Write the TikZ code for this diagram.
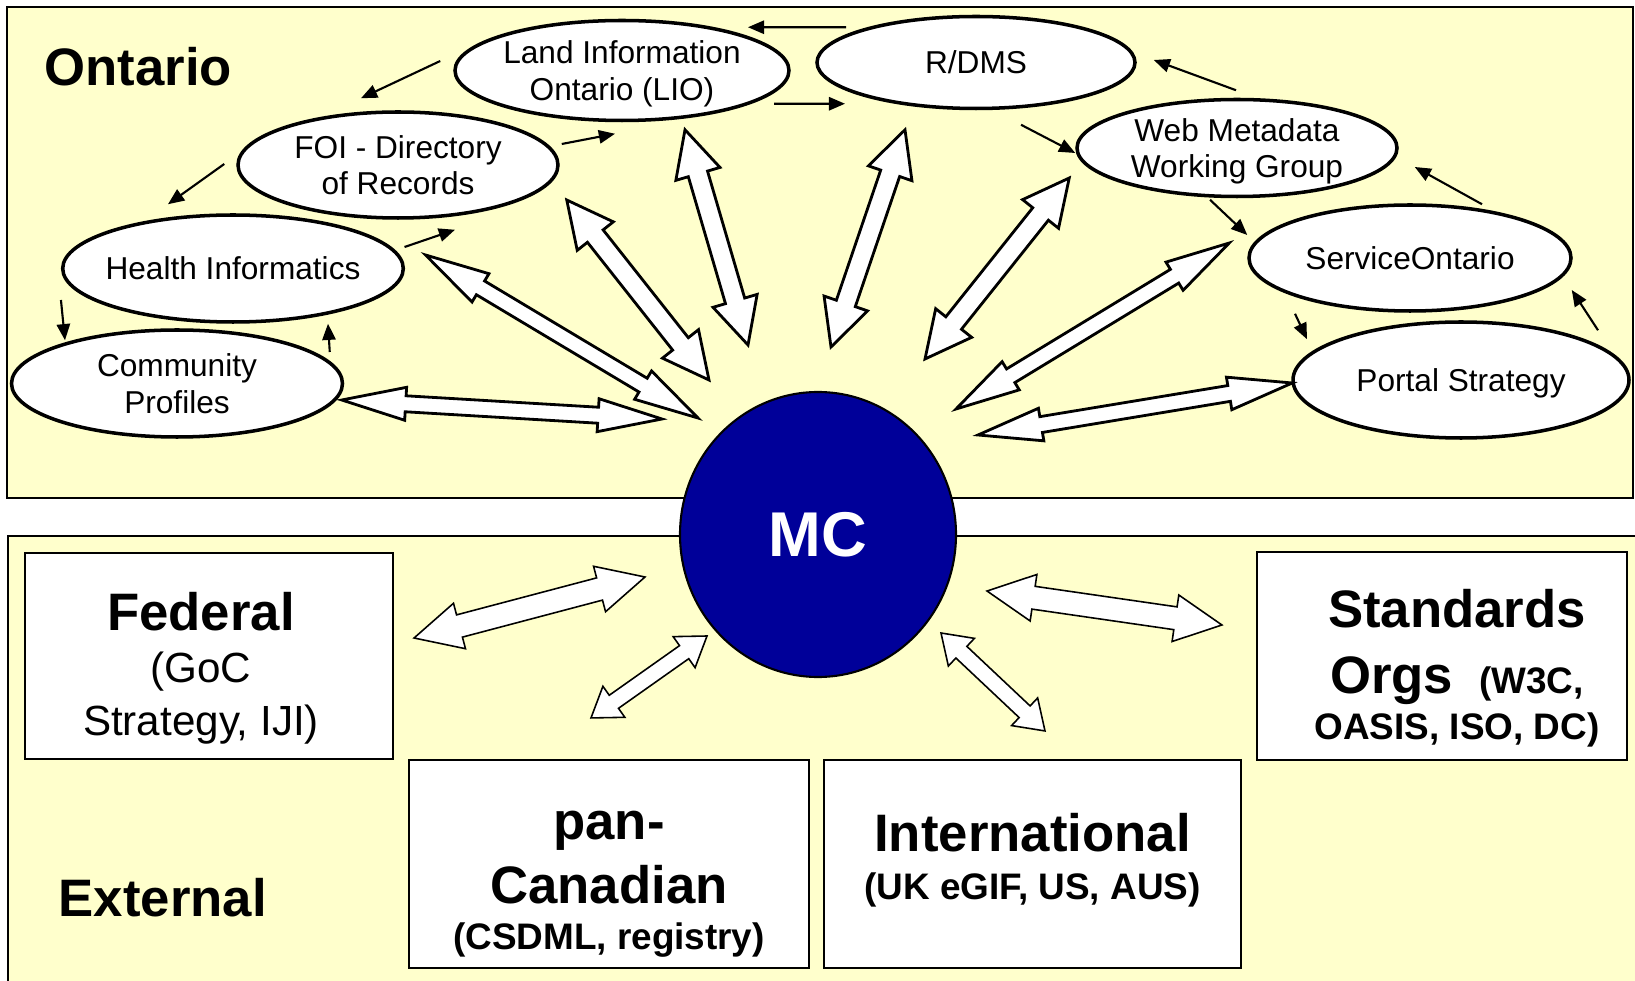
\documentclass[tikz,border=0pt]{standalone}
\usepackage{fontspec}
\setmainfont{Liberation Sans}
\usetikzlibrary{shapes.geometric,arrows.meta,calc}

\definecolor{paleyellow}{HTML}{FFFFCC}
\definecolor{mcblue}{HTML}{000099}

\newcommand{\headfont}{\fontsize{15}{15}\selectfont\bfseries}
\newcommand{\notefont}{\fontsize{10.5}{12}\selectfont\bfseries}

% hollow two-headed arrow between two named points
\newcommand{\dblarrow}[3][]{%
  \draw[bigarrow,#1] (#2)
    -- ($(#2)!\hlen!(#3)!\hwid!90:(#3)$)
    -- ($(#2)!\hlen!(#3)!\swid!90:(#3)$)
    -- ($(#3)!\hlen!(#2)!\swid!-90:(#2)$)
    -- ($(#3)!\hlen!(#2)!\hwid!-90:(#2)$)
    -- (#3)
    -- ($(#3)!\hlen!(#2)!\hwid!90:(#2)$)
    -- ($(#3)!\hlen!(#2)!\swid!90:(#2)$)
    -- ($(#2)!\hlen!(#3)!\swid!-90:(#3)$)
    -- ($(#2)!\hlen!(#3)!\hwid!-90:(#3)$)
    -- cycle;}

\tikzset{
  panel/.style={draw=black, line width=0.6pt, fill=paleyellow},
  region/.style={font=\fontsize{15}{18}\selectfont\bfseries, inner sep=0pt},
  unit/.style={ellipse, draw, line width=1pt, fill=white, inner sep=-2pt,
    align=center, text depth=0pt, font=\fontsize{9}{10.5}\selectfont},
  party/.style={rectangle, draw, line width=0.6pt, fill=white, inner sep=0pt},
  partytext/.style={align=center, inner sep=0pt},
  hub/.style={ellipse, draw, line width=0.6pt, fill=mcblue, text=white,
    font=\fontsize{18}{20}\selectfont\bfseries},
  link/.style={-{Triangle[length=4.6pt,width=3.8pt]}, line width=0.6pt},
  bigarrow/.style={draw=black, fill=white, line width=0.8pt, line join=miter},
  longhead/.code={\def\hlen{6.4mm}\def\hwid{1.65mm}\def\swid{0.8mm}},
  shorthead/.code={\def\hlen{4.6mm}\def\hwid{2.3mm}\def\swid{1mm}},
  widehead/.code={\def\hlen{4.7mm}\def\hwid{2.35mm}\def\swid{1.15mm}},
  smallhead/.code={\def\hlen{2.8mm}\def\hwid{1.9mm}\def\swid{0.8mm}}
}

\begin{document}
\begin{tikzpicture}[x=0.1mm, y=-0.1mm]
  \useasboundingbox (0,0) rectangle (1635,981);

  % the two areas
  \draw[panel] (7,7) rectangle (1633,498);
  \draw[panel] (8,536) rectangle (1660,1000);
  \node[region, anchor=west] (ontario) at (44,67) {Ontario};
  \node[region, anchor=west] (external) at (58,898) {External};

  % Ontario partners
  \node[unit, minimum width=33.4mm, minimum height=10mm] (lio) at (622,70.5) {Land Information\\Ontario (LIO)};
  \node[unit, minimum width=31.8mm, minimum height=9.2mm] (rdms) at (976,62.5) {R/DMS};
  \node[unit, minimum width=32mm, minimum height=10.6mm] (foi) at (398,165) {FOI - Directory\\of Records};
  \node[unit, minimum width=33.5mm, minimum height=10.7mm] (health) at (233,268.5) {Health Informatics};
  \node[unit, minimum width=33.1mm, minimum height=10.7mm] (cp) at (177,383.5) {Community\\Profiles};
  \node[unit, minimum width=32mm, minimum height=9.7mm] (web) at (1237,148) {Web Metadata\\Working Group};
  \node[unit, minimum width=32.2mm, minimum height=10.6mm] (so) at (1410,258) {ServiceOntario};
  \node[unit, minimum width=33.6mm, minimum height=11.6mm] (portal) at (1461,380) {Portal Strategy};

  % external partners
  \node[party, minimum width=36.8mm, minimum height=20.6mm] (fed) at (209,656) {};
  \node[party, minimum width=40mm, minimum height=20.8mm] (pan) at (609,864) {};
  \node[party, minimum width=41.7mm, minimum height=20.8mm] (intl) at (1032.5,864) {};
  \node[party, minimum width=37mm, minimum height=20.8mm] (std) at (1442,656) {};
  \node[partytext, font=\fontsize{12}{15}\selectfont] (fedtext) at ($(fed.center)+(-8,12)$)
    {{\headfont Federal}\\ (GoC\\ Strategy, IJI)};
  \node[partytext, font=\headfont] (pantext) at ($(pan.center)+(0,20)$)
    {pan-\\[3.2pt] Canadian\\[-1.9pt] {\notefont (CSDML, registry)}};
  \node[partytext, font=\headfont] (intltext) at ($(intl.center)+(0,-4)$)
    {International\\[-1.2pt] {\notefont (UK eGIF, US, AUS)}};
  \node[partytext, font=\headfont] (stdtext) at ($(std.center)+(15,12)$)
    {Standards\\[3.9pt] Orgs\hspace{2.6mm}{\notefont (W3C,}\\[-1.9pt] {\notefont OASIS, ISO, DC)}};

  \node[hub, minimum width=27.6mm, minimum height=28.5mm] (mc) at (818,534.5) {MC};

  % small arrows round the ring
  \draw[link] ($(lio.west)+(-13,-9.5)$) -- ($(foi.north)+(-37,-12)$);
  \draw[link] ($(foi.east)+(2,-21)$) -- ($(lio.south)+(-7,11.5)$);
  \draw[link] ($(foi.west)+(-12,-1)$) -- ($(health.north)+(-65,-9)$);
  \draw[link] ($(health.east)+(-0.5,-21.5)$) -- ($(foi.south)+(57,10)$);
  \draw[link] ($(health.west)+(0,31.5)$) -- ($(cp.north)+(-112,12)$);
  \draw[link] ($(cp.east)+(-14.5,-31.5)$) -- ($(health.south)+(95,0)$);
  \draw[link] ($(rdms.north)+(-130,12.5)$) -- ($(lio.north)+(126,8.5)$);
  \draw[link] ($(lio.south)+(152,-18.5)$) -- ($(rdms.south)+(-131,-6.5)$);
  \draw[link] ($(web.north)+(-1,-7.5)$) -- ($(rdms.east)+(17,-2.5)$);
  \draw[link] ($(rdms.south)+(45,14.5)$) -- ($(web.west)+(0,5)$);
  \draw[link] ($(web.south)+(-27,1.5)$) -- ($(so.west)+(0,-23)$);
  \draw[link] ($(so.north)+(72,1)$) -- ($(web.east)+(16,19)$);
  \draw[link] ($(so.south)+(-115,1)$) -- ($(portal.north)+(-154,19)$);
  \draw[link] ($(portal.north)+(137,10)$) -- ($(so.east)+(-1,32)$);

  % tips of the big arrows
  \coordinate (cpT) at ($(cp.east)+(-2.5,16.5)$);
  \coordinate (cpM) at ($(mc.center)+(-156,-115.5)$);
  \coordinate (healthT) at ($(health.east)+(20.5,-13.5)$);
  \coordinate (healthM) at ($(mc.center)+(-120,-116.5)$);
  \coordinate (foiT) at ($(foi.east)+(7,35)$);
  \coordinate (foiM) at ($(mc.center)+(-109,-154.5)$);
  \coordinate (lioT) at ($(lio.south)+(63,7.5)$);
  \coordinate (lioM) at ($(mc.center)+(-70,-189.5)$);
  \coordinate (rdmsT) at ($(rdms.south)+(-71,19.5)$);
  \coordinate (rdmsM) at ($(mc.center)+(13,-187.5)$);
  \coordinate (webT) at ($(web.west)+(-6,30)$);
  \coordinate (webM) at ($(mc.center)+(107,-175.5)$);
  \coordinate (soT) at ($(so.west)+(-18,-15)$);
  \coordinate (soM) at ($(mc.center)+(138,-125.5)$);
  \coordinate (portalT) at ($(portal.west)+(1,3)$);
  \coordinate (portalM) at ($(mc.center)+(160,-99.5)$);
  \coordinate (fedT) at ($(fed.east)+(20,-18)$);
  \coordinate (fedM) at ($(mc.center)+(-173,42.5)$);
  \coordinate (panT) at ($(pan.north)+(-18,-41)$);
  \coordinate (panM) at ($(mc.center)+(-111,101.5)$);
  \coordinate (stdT) at ($(std.west)+(-34,-31)$);
  \coordinate (stdM) at ($(mc.center)+(169,56.5)$);
  \coordinate (intlT) at ($(intl.north)+(12.5,-28)$);
  \coordinate (intlM) at ($(mc.center)+(123,98.5)$);

  % big arrows to and from MC
  \dblarrow[longhead]{cpT}{cpM}
  \dblarrow[longhead]{healthT}{healthM}
  \dblarrow[shorthead]{foiT}{foiM}
  \dblarrow[shorthead]{lioT}{lioM}
  \dblarrow[shorthead]{rdmsT}{rdmsM}
  \dblarrow[shorthead]{webT}{webM}
  \dblarrow[longhead]{soT}{soM}
  \dblarrow[longhead]{portalT}{portalM}
  \dblarrow[widehead, line width=0.45pt]{fedT}{fedM}
  \dblarrow[smallhead, line width=0.45pt]{panT}{panM}
  \dblarrow[widehead, line width=0.45pt]{stdT}{stdM}
  \dblarrow[smallhead, line width=0.45pt]{intlT}{intlM}
\end{tikzpicture}
\end{document}
